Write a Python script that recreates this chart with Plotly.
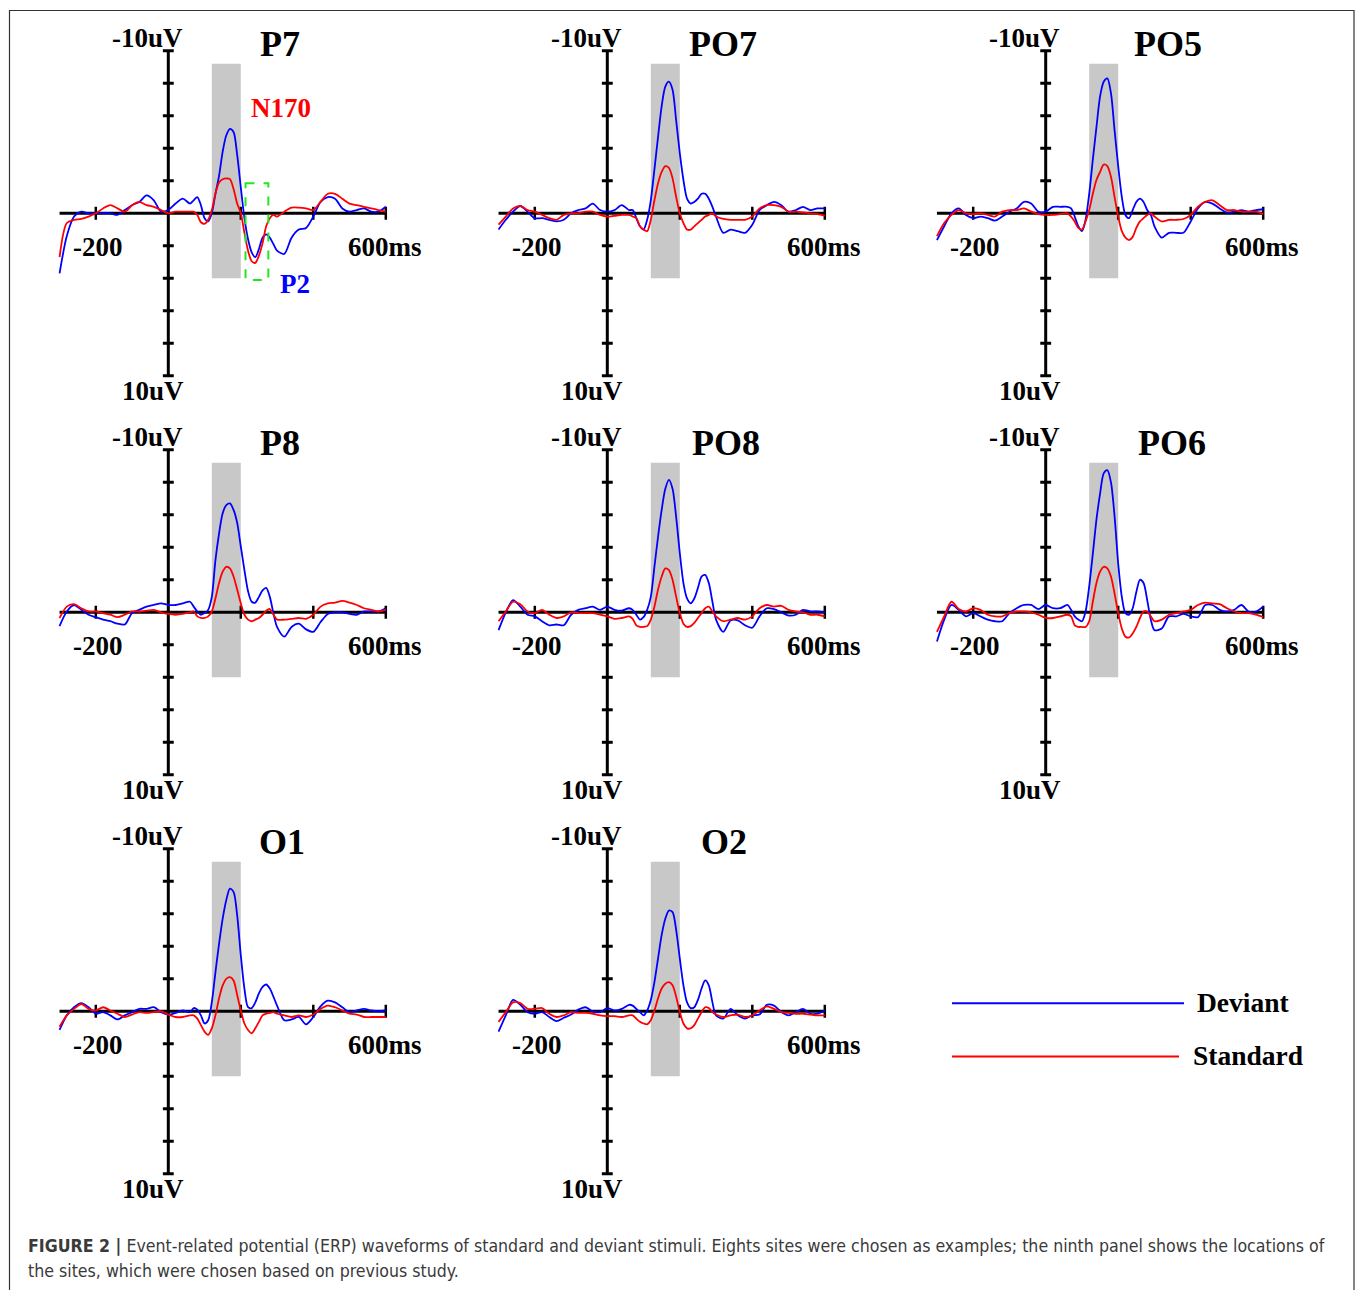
import plotly.graph_objects as go

# ---------------- data ----------------
time_ms = [-300, -280, -260, -240, -220, -200, -180, -160, -140, -120, -100, -80, -60, -40, -20, 0, 20, 40, 60,
           70, 80, 90, 100, 110, 120, 130, 140, 150, 160, 170, 180, 190, 200, 210, 220, 230, 240, 250, 260, 270, 280, 290, 300,
           320, 340, 360, 380, 400, 420, 440, 460, 480, 500, 520, 540, 560, 580, 600]

site_names = ["P7", "PO7", "PO5", "P8", "PO8", "PO6", "O1", "O2"]

dev_P7 = [3.7, 1.4, 0.2, -0.1, 0.0, 0.0, 0.0, 0.0, 0.1, -0.2, -0.5, -0.7, -1.1, -0.8, -0.1, -0.2, -0.6, -0.9, -0.6,
          -0.8, -1.0, -0.5, 0.3, 0.5, 0.0, -1.2, -2.3, -3.8, -4.8, -5.2, -5.0, -3.6, -1.6, 0.3, 1.6, 2.4, 2.7, 2.2, 1.5, 1.3, 1.5, 1.9, 2.3,
          2.5, 1.5, 1.0, 0.9, 0.2, -0.7, -1.0, -0.9, -0.3, -0.1, -0.2, -0.3, -0.1, -0.1, -0.4]
std_P7 = [2.7, 0.6, 0.4, 0.35, 0.2, 0.0, -0.3, -0.5, -0.3, -0.1, -0.5, -0.7, -0.5, -0.4, -0.2, 0.0, -0.1, -0.1, -0.1,
          -0.1, 0.1, 0.55, 0.65, 0.4, -0.2, -1.2, -1.9, -2.1, -2.15, -2.1, -1.5, -0.6, 0.0, 1.2, 2.3, 2.95, 3.05, 2.6, 1.85, 0.8, 0.3, 0.1, 0.2,
          -0.1, -0.35, -0.35, -0.3, -0.2, -0.7, -1.2, -1.2, -0.9, -0.6, -0.5, -0.4, -0.3, -0.2, -0.1]

dev_PO7 = [1.0, 0.4, -0.1, -0.45, -0.1, 0.3, 0.3, 0.4, 0.5, 0.4, 0.0, -0.2, -0.3, -0.6, -0.2, -0.1, -0.2, -0.5, -0.2,
           -0.2, 0.3, 0.8, 1.0, 0.4, -0.8, -2.7, -4.7, -6.6, -7.8, -8.1, -7.6, -5.7, -3.7, -2.05, -0.9, -0.6, -0.7, -0.9, -1.2, -1.2, -0.9, -0.4, 0.2,
           1.2, 1.0, 1.1, 1.2, 0.7, -0.2, -0.5, -0.7, -0.5, -0.1, -0.2, -0.4, -0.2, -0.3, -0.3]
std_PO7 = [0.7, 0.2, -0.3, -0.45, -0.2, -0.1, 0.1, 0.3, 0.4, 0.1, 0.0, 0.0, -0.1, -0.1, 0.1, 0.2, 0.15, 0.1, 0.1,
           0.2, 0.3, 0.8, 1.0, 1.1, 0.4, -0.8, -1.85, -2.55, -2.9, -2.8, -2.15, -1.0, 0.0, 0.6, 1.0, 1.0, 0.8, 0.6, 0.4, 0.2, 0.1, 0.0, 0.2,
           0.35, 0.4, 0.4, 0.4, 0.2, -0.3, -0.5, -0.5, -0.4, -0.1, -0.1, -0.05, 0.0, 0.05, 0.15]

dev_PO5 = [1.65, 0.8, 0.0, -0.3, 0.1, 0.3, 0.2, 0.3, 0.45, 0.2, -0.1, -0.3, -0.7, -0.6, -0.1, -0.1, -0.4, -0.4, -0.4,
           -0.3, 0.2, 0.8, 1.1, 0.4, -1.2, -3.3, -5.3, -7.2, -8.1, -8.3, -7.4, -5.1, -2.9, -1.0, 0.1, 0.3, -0.2, -0.7, -0.9, -0.7, -0.2, 0.1, 0.8,
           1.5, 1.2, 1.2, 1.2, 0.5, -0.3, -0.7, -0.6, -0.3, -0.05, -0.1, -0.2, -0.1, -0.2, -0.25]
std_PO5 = [1.4, 0.6, 0.1, -0.2, 0.0, 0.05, 0.0, 0.1, 0.2, -0.1, -0.2, -0.2, -0.3, -0.1, 0.05, 0.1, 0.1, 0.05, 0.0,
           0.2, 0.5, 0.9, 1.0, 0.5, -0.2, -1.2, -2.05, -2.55, -3.0, -2.9, -2.25, -1.0, 0.2, 1.1, 1.5, 1.65, 1.45, 0.9, 0.5, 0.3, 0.1, 0.0, 0.2,
           0.5, 0.4, 0.4, 0.35, 0.1, -0.4, -0.7, -0.8, -0.5, -0.2, -0.2, -0.1, -0.1, -0.1, 0.05]

dev_P8 = [0.85, -0.05, -0.45, -0.15, 0.15, 0.3, 0.45, 0.55, 0.7, 0.75, 0.05, -0.15, -0.35, -0.45, -0.55, -0.45, -0.45, -0.55, -0.65,
          -0.35, -0.05, 0.15, 0.05, -0.15, -0.95, -3.2, -4.85, -6.1, -6.6, -6.7, -6.3, -5.5, -4.05, -2.6, -1.3, -0.65, -0.6, -0.95, -1.35, -1.5, -0.95, 0.05, 0.9,
          1.5, 0.9, 0.7, 1.05, 1.2, 0.6, 0.1, 0.0, 0.0, 0.1, 0.15, -0.05, -0.05, -0.05, -0.25]
std_P8 = [0.35, -0.35, -0.5, -0.25, -0.05, -0.05, 0.05, 0.15, 0.3, 0.15, -0.05, -0.05, -0.1, -0.15, 0.0, 0.1, 0.15, 0.1, 0.0,
          -0.05, 0.25, 0.35, 0.35, 0.25, -0.05, -0.85, -1.8, -2.5, -2.8, -2.7, -2.2, -1.4, -0.55, 0.15, 0.45, 0.55, 0.45, 0.35, 0.15, -0.1, -0.2, 0.15, 0.45,
          0.45, 0.4, 0.35, 0.4, 0.15, -0.35, -0.55, -0.6, -0.7, -0.6, -0.45, -0.25, -0.15, -0.05, -0.15]

dev_PO8 = [1.1, 0.0, -0.75, -0.35, 0.15, 0.25, 0.55, 0.8, 0.75, 0.8, 0.15, -0.15, -0.25, -0.35, -0.15, -0.35, -0.15, -0.1, -0.25,
           -0.15, 0.15, 0.45, 0.3, -0.15, -0.95, -2.8, -4.65, -6.3, -7.6, -8.15, -7.6, -5.85, -3.65, -1.8, -0.85, -0.55, -0.85, -1.5, -2.2, -2.3, -1.8, -0.65, 0.45,
           1.2, 0.5, 0.5, 0.8, 0.95, 0.25, -0.25, -0.2, 0.0, 0.2, 0.15, -0.15, -0.05, -0.05, 0.0]
std_PO8 = [0.55, -0.05, -0.65, -0.5, -0.05, 0.05, -0.15, 0.15, 0.35, 0.25, 0.0, 0.05, 0.05, 0.05, 0.15, 0.25, 0.4, 0.35, 0.25,
           0.4, 0.8, 0.9, 0.9, 0.85, 0.45, -0.35, -1.4, -2.2, -2.7, -2.6, -2.0, -0.95, 0.05, 0.7, 0.9, 0.85, 0.65, 0.35, 0.05, -0.25, -0.35, -0.05, 0.25,
           0.55, 0.45, 0.35, 0.45, 0.25, -0.25, -0.45, -0.35, -0.4, -0.15, -0.05, 0.0, 0.15, 0.15, 0.25]

dev_PO6 = [1.8, 0.45, -0.45, -0.15, 0.25, 0.05, 0.25, 0.45, 0.55, 0.55, 0.05, -0.25, -0.45, -0.45, -0.2, -0.45, -0.25, -0.25, -0.45,
           -0.15, 0.25, 0.45, 0.55, -0.05, -1.6, -3.6, -5.7, -7.3, -8.55, -8.75, -8.0, -5.9, -3.0, -0.95, 0.05, 0.15, -0.25, -1.25, -2.0, -1.8, -0.75, 0.45, 1.1,
           1.0, 0.25, 0.25, 0.1, 0.25, 0.3, -0.45, -0.45, -0.15, -0.05, -0.15, -0.45, -0.05, -0.05, -0.35]
std_PO6 = [1.2, 0.25, -0.65, -0.2, -0.05, -0.25, -0.15, 0.15, 0.25, 0.25, 0.05, -0.05, -0.05, 0.0, 0.15, 0.35, 0.35, 0.25, 0.15,
           0.25, 0.8, 0.9, 0.9, 0.9, 0.55, -0.65, -1.8, -2.5, -2.8, -2.7, -2.2, -1.15, 0.05, 1.0, 1.5, 1.55, 1.3, 0.9, 0.35, -0.05, -0.05, 0.25, 0.55,
           0.45, 0.15, 0.05, -0.05, -0.15, -0.45, -0.6, -0.55, -0.5, -0.25, -0.05, 0.05, 0.05, 0.15, 0.3]

dev_O1 = [1.15, 0.25, -0.25, -0.5, -0.25, 0.15, 0.05, 0.25, 0.5, 0.25, 0.05, -0.15, -0.15, -0.25, 0.05, 0.2, 0.1, -0.05, 0.05,
          -0.2, -0.1, 0.25, 0.75, 0.55, -0.55, -2.4, -4.15, -5.7, -6.85, -7.55, -7.35, -5.9, -3.45, -1.4, -0.25, -0.2, -0.55, -1.1, -1.5, -1.65, -1.4, -0.9, -0.35,
          0.55, 0.5, 0.35, 0.8, 0.35, -0.3, -0.65, -0.55, -0.25, 0.05, -0.05, -0.15, -0.05, 0.0, -0.05]
std_O1 = [0.95, 0.25, -0.15, -0.45, -0.15, -0.05, -0.25, -0.05, 0.15, 0.35, 0.2, 0.05, 0.1, 0.05, 0.0, 0.2, 0.35, 0.35, 0.25,
          0.25, 0.45, 0.85, 1.25, 1.45, 1.05, 0.25, -0.8, -1.6, -2.0, -2.1, -1.9, -1.0, -0.05, 0.75, 1.15, 1.35, 1.05, 0.65, 0.25, 0.15, 0.1, 0.05, 0.15,
          0.25, 0.35, 0.25, 0.35, 0.2, -0.15, -0.35, -0.25, -0.05, 0.15, 0.2, 0.35, 0.35, 0.35, 0.35]

dev_O2 = [1.25, 0.25, -0.7, -0.4, 0.05, 0.15, 0.05, 0.35, 0.6, 0.4, 0.2, -0.1, -0.25, 0.0, 0.05, -0.2, -0.05, -0.15, -0.4,
          -0.35, -0.15, 0.05, 0.25, -0.05, -0.7, -1.8, -3.25, -4.7, -5.7, -6.2, -6.1, -5.0, -3.25, -1.6, -0.55, -0.2, -0.25, -0.7, -1.4, -1.9, -1.6, -0.55, 0.25,
          0.45, -0.15, 0.25, 0.45, 0.25, 0.2, -0.4, -0.35, 0.05, 0.25, 0.05, -0.15, 0.15, 0.15, -0.05]
std_O2 = [0.65, 0.05, -0.55, -0.5, -0.15, -0.15, -0.2, 0.15, 0.35, 0.25, 0.05, 0.1, 0.1, 0.15, 0.25, 0.3, 0.3, 0.35, 0.25,
          0.25, 0.45, 0.65, 0.75, 0.8, 0.55, -0.05, -0.8, -1.4, -1.7, -1.8, -1.6, -0.9, 0.05, 0.75, 1.05, 1.05, 0.85, 0.45, 0.05, -0.25, -0.2, 0.05, 0.2,
          0.35, 0.25, 0.2, 0.35, 0.25, -0.05, -0.3, -0.15, 0.05, 0.1, 0.15, 0.15, 0.2, 0.25, 0.25]

window_ms = [120, 200]          # shaded N170 window
y_tick_vals = [-10, -8, -6, -4, -2, 2, 4, 6, 8, 10]
x_tick_vals = [-200, 200, 400, 600]
legend_names = ["Deviant", "Standard"]

deviant = [dev_P7, dev_PO7, dev_PO5, dev_P8, dev_PO8, dev_PO6, dev_O1, dev_O2]
standard = [std_P7, std_PO7, std_PO5, std_P8, std_PO8, std_PO6, std_O1, std_O2]

# ---------------- layout geometry (pixels) ----------------
W, H = 1355, 1290
AX0 = [168.3, 607.3, 1045.7]     # pixel x of t = 0 per column
AY0 = [213.3, 612.3, 1011.3]     # pixel y of 0 uV per row
KX = 0.3625                      # px per ms
KY = 16.25                       # px per uV
XR = [-315, 615]
YR = [11.4, -11.4]
title_x = [308, 320, 337, 308, 328, 348, 315, 323]

BLUE = "#0000ff"
RED = "#ff0000"
SERIF = "Liberation Serif, Times New Roman, serif"

fig = go.Figure()
shapes = []
annotations = []

for i, name in enumerate(site_names):
    r, c = divmod(i, 3)
    n = "" if i == 0 else str(i + 1)
    xa, ya = "x" + n, "y" + n
    left = AX0[c] + XR[0] * KX
    right = AX0[c] + XR[1] * KX
    top = AY0[r] - YR[0] * KY
    bottom = AY0[r] + YR[0] * KY
    fig.update_layout(**{
        "xaxis" + n: dict(domain=[left / W, right / W], range=XR, visible=False, fixedrange=True, anchor=ya),
        "yaxis" + n: dict(domain=[1 - bottom / H, 1 - top / H], range=YR, visible=False, fixedrange=True, anchor=xa),
    })
    # shaded window
    shapes.append(dict(type="rect", xref=xa, yref=ya, x0=window_ms[0], x1=window_ms[1], y0=-9.2, y1=4.0,
                       fillcolor="#c8c8c8", line=dict(width=0), layer="below"))
    # axes cross
    shapes.append(dict(type="line", xref=xa, yref=ya, x0=-300, x1=600, y0=0, y1=0,
                       line=dict(color="black", width=3), layer="below"))
    shapes.append(dict(type="line", xref=xa, yref=ya, x0=0, x1=0, y0=-10, y1=10,
                       line=dict(color="black", width=3), layer="below"))
    for yv in y_tick_vals:
        shapes.append(dict(type="line", xref=xa, yref=ya, x0=-15, x1=15, y0=yv, y1=yv,
                           line=dict(color="black", width=3), layer="below"))
    for xv in x_tick_vals:
        shapes.append(dict(type="line", xref=xa, yref=ya, x0=xv, x1=xv, y0=-0.4, y1=0.4,
                           line=dict(color="black", width=2.5), layer="below"))
    # traces
    fig.add_trace(go.Scatter(x=time_ms, y=deviant[i], mode="lines", xaxis=xa, yaxis=ya,
                             line=dict(color=BLUE, width=1.8, shape="spline", smoothing=0.8),
                             name=legend_names[0], showlegend=False, hoverinfo="skip"))
    fig.add_trace(go.Scatter(x=time_ms, y=standard[i], mode="lines", xaxis=xa, yaxis=ya,
                             line=dict(color=RED, width=1.8, shape="spline", smoothing=0.8),
                             name=legend_names[1], showlegend=False, hoverinfo="skip"))
    # texts
    def txt(x, y, s, size=27, color="black", xanchor="center"):
        annotations.append(dict(xref=xa, yref=ya, x=x, y=y, text=s, showarrow=False,
                                xanchor=xanchor, yanchor="middle",
                                font=dict(family=SERIF, size=size, color=color)))
    txt(title_x[i], -10.4, "<b>%s</b>" % name, size=36)
    txt(-58, -10.8, "<b>-10uV</b>")
    txt(-42, 10.95, "<b>10uV</b>")
    txt(-194, 2.1, "<b>-200</b>")
    txt(598, 2.1, "<b>600ms</b>")
    if i == 0:
        txt(311, -6.5, "<b>N170</b>", color=RED)
        txt(350, 4.35, "<b>P2</b>", color=BLUE)
        shapes.append(dict(type="rect", xref=xa, yref=ya, x0=213, x1=276, y0=-1.85, y1=4.1,
                           line=dict(color="#22e622", width=2, dash="dash"), fillcolor="rgba(0,0,0,0)"))

# legend in the ninth cell
for k, (name, col, x1, ly) in enumerate([(legend_names[0], BLUE, 1184, 1003.3), (legend_names[1], RED, 1179, 1056.5)]):
    shapes.append(dict(type="line", xref="paper", yref="paper", x0=952 / W, x1=x1 / W,
                       y0=1 - ly / H, y1=1 - ly / H, line=dict(color=col, width=2)))
annotations.append(dict(xref="paper", yref="paper", x=1195 / W, y=1 - 1002.5 / H, text="<b>Deviant</b>",
                        showarrow=False, xanchor="left", yanchor="middle",
                        font=dict(family=SERIF, size=27.5, color="black")))
annotations.append(dict(xref="paper", yref="paper", x=1190.5 / W, y=1 - 1055.5 / H, text="<b>Standard</b>",
                        showarrow=False, xanchor="left", yanchor="middle",
                        font=dict(family=SERIF, size=27.5, color="black")))

# outer frame (open at bottom)
shapes.append(dict(type="path", xref="paper", yref="paper",
                   path="M %f,%f L %f,%f L %f,%f L %f,%f" % (9.5 / W, -0.01, 9.5 / W, 1 - 10.5 / H,
                                                             1354 / W, 1 - 10.5 / H, 1354 / W, -0.01),
                   line=dict(color="#333333", width=1.2)))

# caption
CAP = "DejaVu Sans Condensed, Liberation Sans Narrow, sans-serif"
annotations.append(dict(xref="paper", yref="paper", x=26 / W, y=1 - 1246 / H, xanchor="left", yanchor="middle",
                        showarrow=False,
                        text="<b>FIGURE 2 |</b> Event-related potential (ERP) waveforms of standard and deviant stimuli. "
                             "Eights sites were chosen as examples; the ninth panel shows the locations of",
                        font=dict(family=CAP, size=17.6, color="#3a3a3a")))
annotations.append(dict(xref="paper", yref="paper", x=26 / W, y=1 - 1271 / H, xanchor="left", yanchor="middle",
                        showarrow=False,
                        text="the sites, which were chosen based on previous study.",
                        font=dict(family=CAP, size=17.6, color="#3a3a3a")))

fig.update_layout(width=W, height=H, margin=dict(l=0, r=0, t=0, b=0),
                  paper_bgcolor="white", plot_bgcolor="rgba(0,0,0,0)",
                  shapes=shapes, annotations=annotations, showlegend=False)

fig.write_html("out.html")
